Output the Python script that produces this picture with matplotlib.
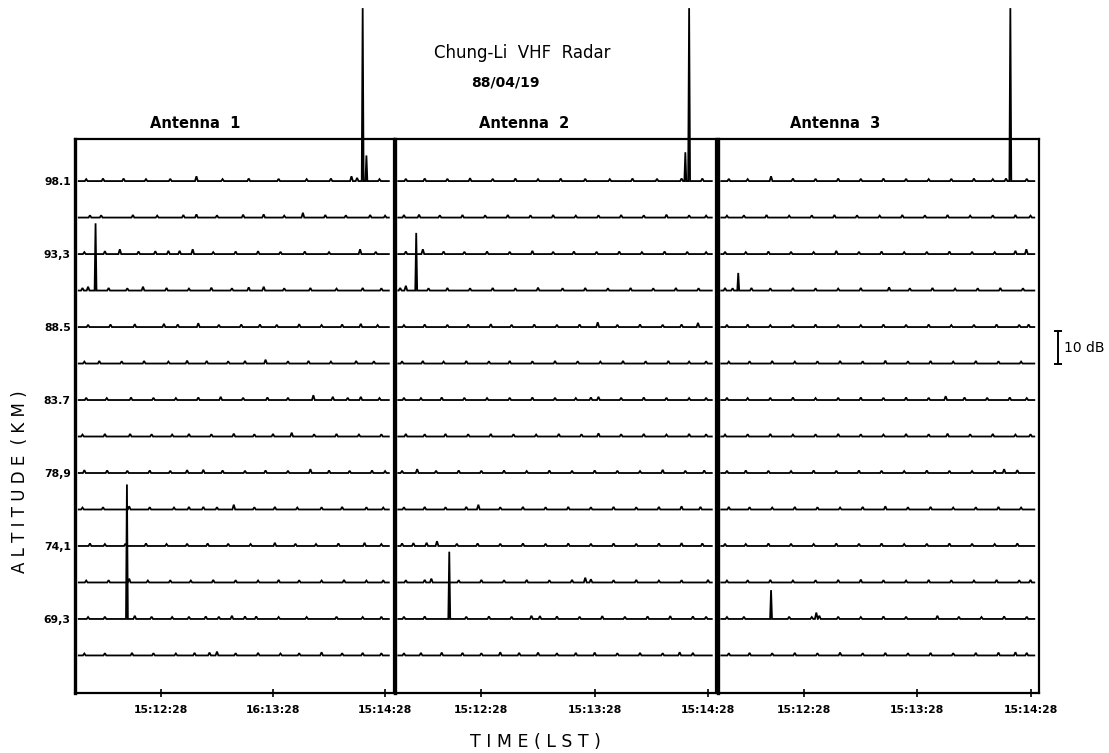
import matplotlib
matplotlib.use("Agg")
import matplotlib.pyplot as plt
import numpy as np

# ---------------- data ----------------
ALTITUDES = [98.1, 95.7, 93.3, 90.9, 88.5, 86.1, 83.7, 81.3, 78.9, 76.5, 74.1, 71.7, 69.3, 66.9]
YTICK_VALUES = [98.1, 93.3, 88.5, 83.7, 78.9, 74.1, 69.3]
YTICK_LABELS = ["98.1", "93,3", "88.5", "83.7", "78,9", "74,1", "69,3"]

# time in seconds relative to 15:12:28
XTICK_VALUES = [0, 60, 120]
XTICK_LABELS_1 = ["15:12:28", "16:13:28", "15:14:28"]
XTICK_LABELS_2 = ["15:12:28", "15:13:28", "15:14:28"]
XTICK_LABELS_3 = ["15:12:28", "15:13:28", "15:14:28"]
TRACE_START, TRACE_END = -44.0, 122.0
XLIM = (-46.0, 124.5)
YLIM = (64.45, 100.9)

PANEL_TITLES = ["Antenna  1", "Antenna  2", "Antenna  3"]
SCALE_DB = 10

# echo peaks (time s, power dB above noise floor) per altitude trace
ANT1_PEAKS = [
    [(-40, 0.6), (-31, 0.8), (-20, 0.8), (-8, 0.6), (5, 0.7), (19, 1.5), (33, 0.6), (47, 0.8), (63, 0.7), (78, 0.6), (91, 0.8), (102, 1.5), (105, 1.0), (108, 54), (110, 8), (117, 0.6)],
    [(-38, 0.7), (-32, 0.7), (-15, 0.8), (-2, 0.6), (12, 0.8), (19, 1.0), (30, 0.7), (44, 0.9), (55, 1.0), (66, 0.6), (76, 1.5), (88, 0.8), (99, 0.7), (112, 0.8), (120, 0.6)],
    [(-41, 0.6), (-30, 0.9), (-22, 1.5), (-12, 0.8), (-3, 0.9), (4, 1.0), (10, 1.0), (17, 1.5), (28, 0.6), (40, 0.8), (52, 0.9), (64, 0.7), (77, 0.8), (90, 0.6), (106.6, 1.5), (115, 0.7)],
    [(-42, 0.8), (-39, 1.2), (-35, 21), (-28, 0.8), (-18, 0.7), (-9.6, 1.2), (3, 0.8), (15, 0.6), (27, 0.9), (38, 0.7), (47, 1.0), (55, 1.2), (66, 0.7), (80, 0.8), (94, 0.6), (108, 0.8), (118, 0.7)],
    [(-39, 0.7), (-27, 0.8), (-14, 0.9), (1.6, 1.0), (9, 0.8), (20, 1.2), (31, 0.7), (43, 0.8), (53, 0.8), (62, 0.7), (74, 0.9), (86, 0.6), (97, 0.8), (107, 1.0), (116, 0.6)],
    [(-41, 0.6), (-33, 0.8), (-21, 0.7), (-9, 0.8), (4, 0.6), (14, 0.9), (24.5, 0.8), (36, 0.7), (45, 0.8), (56, 1.2), (68, 0.7), (79, 0.8), (91, 0.6), (104.5, 0.8), (114, 0.7)],
    [(-40, 0.7), (-29, 0.6), (-16, 0.8), (-4, 0.7), (8, 0.6), (20, 0.8), (32, 1.0), (44, 0.7), (57, 0.8), (68, 0.7), (81.6, 1.5), (92, 1.0), (100, 0.7), (107, 1.0), (117, 0.6)],
    [(-42, 0.6), (-30, 0.8), (-16.5, 0.8), (-5, 0.7), (6, 0.6), (15, 0.8), (27, 0.7), (39, 0.9), (50, 0.7), (60, 0.8), (70, 1.2), (82, 0.7), (94, 0.8), (106, 0.6), (118, 0.7)],
    [(-41, 0.9), (-28.8, 0.8), (-18, 0.7), (-6, 0.8), (5, 0.7), (14, 0.9), (22.7, 1.0), (33, 0.8), (45, 0.7), (56, 0.8), (68, 0.7), (80, 1.2), (90, 0.8), (101, 0.7), (113, 0.8), (120, 0.6)],
    [(-42, 0.6), (-31, 0.7), (-17, 1.0), (-6, 0.7), (7, 0.6), (15, 0.8), (22.7, 0.8), (30, 0.7), (39, 1.5), (50, 0.7), (61, 0.8), (73, 0.6), (86, 0.7), (97, 0.8), (110, 0.7), (119, 0.6)],
    [(-38, 0.8), (-30, 0.6), (-19, 0.7), (-8, 0.8), (3, 0.6), (14, 0.7), (25, 0.8), (36, 0.7), (48, 0.6), (61, 1.0), (72, 0.7), (83, 0.6), (95, 0.8), (109, 1.0), (118, 0.6)],
    [(-40, 0.6), (-28, 0.7), (-17, 1.2), (-7, 0.6), (5, 0.7), (16, 0.6), (28, 0.8), (40, 0.7), (52, 0.6), (63, 0.8), (74, 0.7), (86, 0.6), (98, 0.8), (110, 0.6), (119, 0.7)],
    [(-39, 0.6), (-30, 0.7), (-18.2, 42), (-14, 1.0), (-5, 0.7), (6, 0.6), (15, 0.7), (24, 0.8), (31, 0.7), (38, 1.0), (45, 0.8), (51, 0.8), (63, 0.6), (78, 0.6), (94, 0.7), (108, 0.6), (118, 0.7)],
    [(-41, 0.6), (-30, 0.7), (-15.5, 0.8), (-4, 0.7), (8, 0.6), (18, 0.8), (26, 0.9), (30, 1.2), (40, 0.7), (52, 0.8), (64, 0.6), (74, 0.7), (86, 1.0), (97, 0.7), (108, 0.8), (118, 0.7)],
]

ANT2_PEAKS = [
    [(-40, 0.7), (-30, 0.8), (-18, 0.7), (-6, 0.9), (6, 0.7), (18, 0.8), (30, 0.6), (42, 0.8), (55, 0.7), (68, 0.6), (80, 0.8), (93, 0.7), (106, 0.8), (108, 9), (110, 54), (117, 0.8)],
    [(-41, 0.8), (-33, 0.9), (-22, 0.7), (-10, 0.8), (2, 0.7), (14, 0.8), (26, 0.7), (38, 0.8), (50, 0.6), (62, 0.7), (74, 0.8), (86, 0.7), (98, 0.9), (110, 0.7), (119, 0.6)],
    [(-40, 0.8), (-31, 1.5), (-20, 0.8), (-9, 0.7), (3, 0.8), (15, 0.7), (27, 1.0), (38, 0.7), (49, 0.8), (61, 0.7), (73, 0.8), (85, 0.6), (97, 0.8), (109, 0.7), (119, 0.6)],
    [(-43, 0.8), (-40, 1.5), (-34.5, 18), (-28, 0.7), (-18, 0.8), (-6, 0.7), (6, 0.8), (18, 0.7), (30, 0.9), (43, 0.7), (55, 0.8), (67, 0.7), (79, 0.8), (91, 0.7), (103, 0.8), (115, 0.7)],
    [(-41, 0.6), (-30, 0.8), (-18, 0.7), (-7, 0.8), (5, 0.9), (16, 0.7), (28, 0.8), (40, 0.7), (52, 0.8), (61.6, 1.5), (72, 0.7), (84, 0.8), (96, 0.7), (106, 0.8), (114.7, 1.3)],
    [(-42, 0.7), (-31, 0.8), (-20, 0.6), (-8, 0.8), (4, 0.7), (15, 0.8), (27, 0.7), (39, 0.8), (51, 0.7), (63, 0.6), (75, 0.8), (87, 0.7), (99, 0.8), (110, 0.6), (119, 0.7)],
    [(-41, 0.7), (-32, 0.6), (-21, 0.8), (-9, 0.7), (3, 0.6), (15, 0.7), (27, 0.8), (39, 0.7), (50, 0.6), (58, 0.8), (62, 1.0), (74, 0.7), (86, 0.8), (98, 0.7), (110, 0.6), (119, 0.7)],
    [(-40, 0.8), (-30, 0.7), (-19, 0.8), (-7, 0.7), (5, 0.8), (17, 0.7), (29, 0.6), (41, 0.8), (53, 0.7), (62, 1.0), (74, 0.7), (86, 0.8), (98, 0.6), (110, 0.8), (119, 0.7)],
    [(-42, 0.7), (-34, 1.2), (-24, 0.7), (-12, 0.8), (0, 0.7), (12, 0.8), (24, 0.6), (36, 0.8), (48, 0.7), (60, 0.8), (72, 0.7), (84, 0.6), (96, 1.0), (108, 0.7), (118, 0.8)],
    [(-41, 0.7), (-30, 0.8), (-19, 0.7), (-8, 0.8), (-1.6, 1.5), (10, 0.7), (22, 0.8), (34, 0.7), (46, 0.8), (58, 0.7), (70, 0.8), (82, 0.7), (94, 0.8), (106, 1.0), (116, 0.8)],
    [(-42, 0.8), (-36, 0.9), (-29, 1.0), (-23.5, 1.5), (-13, 0.7), (-2, 0.8), (10, 0.7), (22, 0.8), (34, 0.7), (46, 0.8), (58, 0.7), (70, 0.8), (82, 0.7), (94, 0.8), (106, 0.9), (117, 0.8)],
    [(-40, 0.7), (-30, 0.8), (-26.5, 1.2), (-12, 0.7), (0, 0.8), (12, 0.7), (24, 0.8), (36, 0.7), (48, 0.8), (55, 1.5), (58, 1.0), (70, 0.7), (82, 0.8), (94, 0.6), (106, 0.7), (120, 0.8)],
    [(-41, 0.7), (-30, 0.8), (-17, 21), (-8, 0.7), (4, 0.8), (16, 0.7), (26.5, 1.0), (31, 0.9), (40, 0.8), (52, 0.7), (64, 0.9), (76, 0.7), (88, 0.8), (100, 0.9), (112, 0.8), (119, 0.7)],
    [(-41, 0.7), (-32, 0.8), (-21, 0.9), (-10, 0.8), (0, 0.7), (10, 1.0), (20, 0.8), (30, 0.9), (40, 0.7), (50, 0.8), (60, 0.9), (72, 0.7), (84, 0.8), (96, 0.7), (105, 1.0), (112, 0.8)],
]

ANT3_PEAKS = [
    [(-40, 0.7), (-30, 0.6), (-17.6, 1.5), (-6, 0.8), (6, 0.7), (18, 0.8), (30, 0.7), (42, 0.8), (54, 0.7), (66, 0.6), (78, 0.7), (90, 0.8), (100, 0.6), (107, 0.8), (109.3, 54), (118, 0.7)],
    [(-41, 0.6), (-32, 0.7), (-20, 0.8), (-8, 0.6), (4, 0.7), (16, 0.8), (28, 0.7), (40, 0.6), (52, 0.8), (64, 0.7), (76, 0.8), (88, 0.6), (100, 0.7), (112, 0.8), (120, 0.6)],
    [(-42, 0.7), (-31, 0.6), (-19, 0.8), (-7, 0.7), (5, 0.6), (17, 1.0), (29, 0.7), (41, 0.8), (53, 0.6), (65, 0.7), (77, 0.8), (89, 0.7), (101, 0.6), (112, 1.0), (117.8, 1.5)],
    [(-42, 0.8), (-38, 0.7), (-35, 5.5), (-28, 0.8), (-18, 0.7), (-6, 0.8), (6, 0.7), (18, 0.6), (30, 0.8), (45, 1.0), (56, 0.7), (68, 0.8), (80, 0.6), (92, 0.7), (104, 0.8), (116, 0.7)],
    [(-41, 0.7), (-30, 0.8), (-18, 0.6), (-6, 0.7), (6, 0.8), (18, 0.7), (30, 0.6), (42, 0.8), (54, 0.7), (66, 0.8), (78, 0.6), (90, 0.7), (102, 0.8), (114, 0.7), (119, 0.8)],
    [(-40, 0.6), (-29, 0.7), (-17, 0.8), (-5, 0.6), (7, 0.7), (19, 0.8), (31, 0.7), (43, 0.9), (55, 0.7), (67, 0.8), (79, 0.6), (91, 0.8), (103, 0.7), (115, 0.6)],
    [(-41, 0.7), (-30, 0.6), (-18, 0.7), (-6, 0.8), (6, 0.6), (18, 0.7), (30, 0.8), (42, 0.7), (54, 0.8), (66, 0.7), (75, 1.2), (85, 0.8), (97, 0.7), (109, 0.8), (118, 0.6)],
    [(-42, 0.6), (-30, 0.7), (-18, 0.8), (-6, 0.6), (6, 0.7), (18, 0.8), (30, 0.7), (42, 0.6), (54, 0.8), (66, 0.7), (76, 0.9), (88, 0.7), (100, 0.8), (112, 0.6), (120, 0.7)],
    [(-41, 0.7), (-31, 0.8), (-19, 0.7), (-7, 0.6), (5, 0.8), (17, 0.7), (29, 0.8), (41, 0.7), (53, 0.6), (65, 0.8), (77, 0.7), (89, 0.6), (101, 0.8), (106, 1.2), (113, 0.9)],
    [(-40, 0.8), (-29, 0.7), (-17, 0.6), (-5, 0.8), (7, 0.7), (19, 0.6), (31, 0.8), (43, 1.0), (55, 0.7), (67, 0.8), (79, 0.6), (91, 0.7), (103, 0.8), (115, 0.6)],
    [(-42, 0.7), (-31, 0.6), (-19, 0.8), (-7, 0.7), (5, 0.6), (17, 0.8), (29, 0.7), (41, 0.8), (53, 0.6), (65, 0.7), (77, 0.8), (89, 0.7), (101, 0.6), (113, 0.8)],
    [(-41, 0.6), (-30, 0.7), (-18, 0.8), (-6, 0.6), (6, 0.7), (18, 0.8), (30, 0.9), (42, 0.7), (54, 0.6), (66, 0.8), (78, 0.7), (90, 0.6), (102, 0.8), (114, 0.7), (120, 0.8)],
    [(-41, 0.6), (-32, 0.7), (-17.6, 9), (-8, 0.7), (4, 0.6), (6.4, 2.0), (8, 1.0), (18, 0.7), (30, 0.6), (42, 0.8), (54, 0.7), (70.6, 1.0), (82, 0.7), (94, 0.6), (106, 0.8), (118, 0.7)],
    [(-40, 0.7), (-29, 0.8), (-17, 0.7), (-5, 0.8), (7, 0.7), (19, 0.9), (31, 0.7), (43, 0.8), (55, 0.7), (67, 0.8), (79, 0.7), (91, 0.8), (103, 0.9), (112, 1.0), (118, 0.8)],
]

# ---------------- layout ----------------
W, H = 1109, 753
DPI = 100
DB_TO_KM = 2.4 * 32.0 / 36.46 / 10.0   # 10 dB spans ~32 px, line spacing 2.4 km ~36.5 px
FONT = "DejaVu Sans"

fig = plt.figure(figsize=(W / DPI, H / DPI), dpi=DPI)

def frac(x0, x1):
    return x0 / W, (x1 - x0) / W

ybot = (H - 692.7) / H
ytop = (H - 138.5) / H
panel_px = [(75, 393.5), (394.5, 716.5), (717.5, 1039)]
title_px = [195, 524, 835]
xtick_sets = [XTICK_LABELS_1, XTICK_LABELS_2, XTICK_LABELS_3]
peak_sets = [ANT1_PEAKS, ANT2_PEAKS, ANT3_PEAKS]

def trace_xy(alt, peaks):
    xs = [TRACE_START]
    ys = [alt]
    for t, db in sorted(peaks):
        w = 0.5 if db > 4 else 0.75
        xs += [t - w, t, t + w]
        ys += [alt, alt + db * DB_TO_KM, alt]
    xs.append(TRACE_END)
    ys.append(alt)
    return np.array(xs), np.array(ys)

axes = []
for i, (x0, x1) in enumerate(panel_px):
    l, w = frac(x0, x1)
    ax = fig.add_axes([l, ybot, w, ytop - ybot])
    ax.set_xlim(*XLIM)
    ax.set_ylim(*YLIM)
    for alt, peaks in zip(ALTITUDES, peak_sets[i]):
        xs, ys = trace_xy(alt, peaks)
        ax.plot(xs, ys, color="black", lw=1.3, solid_joinstyle="miter", clip_on=False)
    for s in ax.spines.values():
        s.set_linewidth(1.6)
        s.set_color("black")
    ax.spines["left"].set_linewidth(2.4)
    ax.set_xticks(XTICK_VALUES)
    ax.set_xticklabels(xtick_sets[i], fontsize=7.8, fontweight="bold", family=FONT)
    ax.tick_params(axis="x", direction="inout", length=6, width=1.2, pad=6)
    if i == 0:
        ax.set_yticks(YTICK_VALUES)
        ax.set_yticklabels(YTICK_LABELS, fontsize=7.8, fontweight="bold", family=FONT)
        ax.tick_params(axis="y", length=0, pad=3)
    else:
        ax.set_yticks([])
    fig.text(title_px[i] / W, 1 - 123 / H, PANEL_TITLES[i], fontsize=10.5, fontweight="bold",
             family=FONT, ha="center", va="center")
    axes.append(ax)

# scale bar (10 dB) to the right of panel 3
ax3 = axes[2]
bar_x = 134.5
bar_y0 = 86.1
ax3.plot([bar_x, bar_x], [bar_y0, bar_y0 + SCALE_DB * DB_TO_KM], color="black", lw=1.4,
         marker="_", markersize=6, markeredgewidth=1.4, clip_on=False)
ax3.text(bar_x + 3.0, bar_y0 + SCALE_DB * DB_TO_KM / 2, f"{SCALE_DB} dB", fontsize=10,
         va="center", ha="left", family=FONT)

# overall titles
fig.text(522 / W, 1 - 53 / H, "Chung-Li  VHF  Radar", fontsize=12, ha="center", va="center", family=FONT)
fig.text(505 / W, 1 - 83 / H, "88/04/19", fontsize=10, ha="center", va="center",
         family="Liberation Sans Narrow", fontweight="bold")
fig.text(20 / W, 1 - 482 / H, "A L T I T U D E  ( K M )", fontsize=12, rotation=90,
         ha="center", va="center", family=FONT)
fig.text(535 / W, 1 - 742 / H, "T I M E ( L S T )", fontsize=12.5, ha="center", va="center",
         family=FONT)

fig.savefig("out.png", dpi=DPI)
